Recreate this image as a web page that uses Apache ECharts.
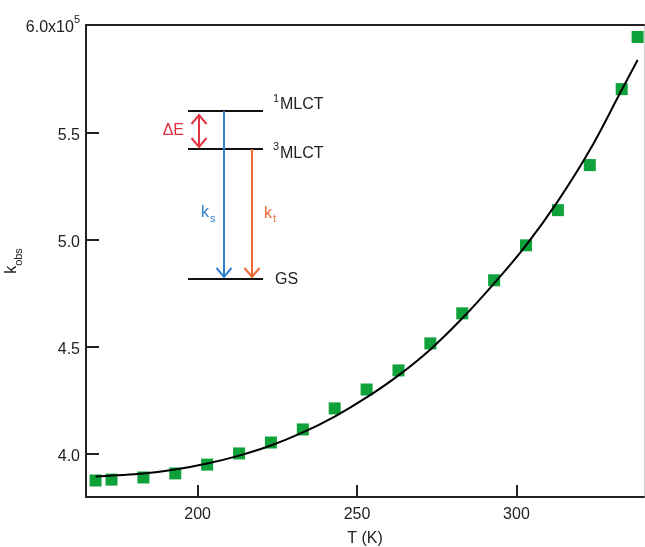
<!DOCTYPE html>
<html>
<head>
<meta charset="utf-8">
<script src="https://cdn.jsdelivr.net/npm/echarts/dist/echarts.min.js"></script>
<style>html,body{margin:0;padding:0;background:#fff;}#chart{width:645px;height:547px;}</style>
</head>
<body>
<div id="chart"></div>
<script>
// Measured data (T in K, k_obs in units of 1e5)
var tempPoints = [168, 173, 183, 193, 203, 213, 223, 233, 243, 253, 263, 273, 283, 293, 303, 313, 323, 333, 338];
var kobsPoints = [3.877, 3.881, 3.891, 3.910, 3.951, 4.003, 4.054, 4.115, 4.213, 4.301, 4.390, 4.516, 4.656, 4.810, 4.973, 5.137, 5.347, 5.701, 5.944];
// Fitted curve
var tempFit = [168, 173, 183, 193, 203, 213, 223, 233, 243, 253, 263, 273, 283, 293, 303, 313, 323, 333, 338];
var kobsFit = [3.895, 3.900, 3.909, 3.928, 3.956, 3.993, 4.040, 4.101, 4.175, 4.264, 4.367, 4.488, 4.633, 4.796, 4.973, 5.179, 5.417, 5.697, 5.837];
// Tick labels
var xTicks = [200, 250, 300];
var yTicks = [4.0, 4.5, 5.0, 5.5, 6.0];

var FONT = '"Liberation Sans", Arial, sans-serif';
var INK = '#222';

function pairs(xs, ys) { return xs.map(function (x, i) { return [x, ys[i]]; }); }

var chart = echarts.init(document.getElementById('chart'), null, { renderer: 'canvas' });

function lineEl(x1, y1, x2, y2, color, w) {
  return { type: 'line', shape: { x1: x1, y1: y1, x2: x2, y2: y2 }, style: { stroke: color, lineWidth: w || 2 }, silent: true };
}
function vHead(x, y, dir, color) {
  // dir = 1 pointing down, -1 pointing up
  return { type: 'polyline', shape: { points: [[x - 7.5, y - dir * 9], [x, y], [x + 7.5, y - dir * 9]] }, style: { stroke: color, lineWidth: 2, fill: null }, silent: true };
}
function txt(x, y, s, size, color, align) {
  return { type: 'text', x: x, y: y, style: { text: s, font: size + 'px ' + FONT, fill: color, align: align || 'left', verticalAlign: 'middle' }, silent: true };
}

var BLUE = '#2f7fd2', ORANGE = '#f06a35', RED = '#e23440';

var option = {
  backgroundColor: '#fff',
  animation: false,
  grid: { left: 86, right: 1, top: 25, bottom: 50, containLabel: false, outerBoundsMode: 'none' },
  xAxis: [{
    type: 'value', min: 165, max: 340,
    axisLine: { lineStyle: { color: INK, width: 2 } },
    axisTick: { inside: true, length: 12, customValues: xTicks, lineStyle: { color: INK, width: 2 } },
    axisLabel: { customValues: xTicks, margin: 10, fontSize: 16, fontFamily: FONT, color: INK },
    splitLine: { show: false },
    name: 'T (K)', nameLocation: 'middle', nameGap: 34, nameMoveOverlap: false,
    nameTextStyle: { fontSize: 16, fontFamily: FONT, color: INK }
  }, {
    type: 'value', min: 165, max: 340, position: 'top',
    axisLine: { lineStyle: { color: INK, width: 2 } },
    axisTick: { show: false }, axisLabel: { show: false }, splitLine: { show: false }
  }],
  yAxis: [{
    type: 'value', min: 3.8, max: 6.0,
    axisLine: { lineStyle: { color: INK, width: 2 } },
    axisTick: { inside: true, length: 13, customValues: yTicks, lineStyle: { color: INK, width: 2 } },
    axisLabel: {
      customValues: yTicks, margin: 6, fontFamily: FONT, color: INK, fontSize: 16,
      formatter: function (v) {
        if (Math.abs(v - 6) < 1e-9) return '{a|6.0x10}{s|5}';
        return '{a|' + v.toFixed(1) + '}';
      },
      rich: {
        a: { fontSize: 16, fontFamily: FONT, color: INK, lineHeight: 22, verticalAlign: 'bottom' },
        s: { fontSize: 11, fontFamily: FONT, color: INK, lineHeight: 22, verticalAlign: 'top' }
      }
    },
    splitLine: { show: false },
    name: '{k|k}{s|obs}', nameLocation: 'middle', nameRotate: 90, nameGap: 62, nameMoveOverlap: false,
    nameTextStyle: {
      rich: {
        k: { fontSize: 16, fontFamily: FONT, color: INK, lineHeight: 20, verticalAlign: 'top' },
        s: { fontSize: 11, fontFamily: FONT, color: INK, lineHeight: 20, verticalAlign: 'bottom' }
      }
    }
  }, {
    type: 'value', min: 3.8, max: 6.0, position: 'right',
    axisLine: { lineStyle: { color: '#cfcfcf', width: 1 } },
    axisTick: { show: false }, axisLabel: { show: false }, splitLine: { show: false }
  }],
  series: [{
    type: 'line', name: 'fit', data: pairs(tempFit, kobsFit), smooth: 0.4,
    showSymbol: false, symbol: 'none', z: 3,
    lineStyle: { color: '#000', width: 2 }
  }, {
    type: 'scatter', name: 'kobs', data: pairs(tempPoints, kobsPoints),
    symbol: 'rect', symbolSize: 12, z: 2,
    itemStyle: { color: '#0fa13a', opacity: 1 }
  }],
  graphic: [
    lineEl(188, 111, 263, 111, '#111'),
    lineEl(188, 149, 263, 149, '#111'),
    lineEl(188, 279, 263, 279, '#111'),
    lineEl(224, 111, 224, 277, BLUE),
    vHead(224, 277, 1, BLUE),
    lineEl(252, 149, 252, 277, ORANGE),
    vHead(252, 277, 1, ORANGE),
    lineEl(199, 115, 199, 147, RED),
    vHead(199, 115, -1, RED),
    vHead(199, 147, 1, RED),
    txt(184, 131, 'ΔE', 16, RED, 'right'),
    txt(273, 99, '1', 11, INK),
    txt(280, 105, 'MLCT', 16, INK),
    txt(273, 147, '3', 11, INK),
    txt(280, 154, 'MLCT', 16, INK),
    txt(275, 280, 'GS', 16, INK),
    txt(201, 213, 'k', 16, BLUE),
    txt(210, 219, 's', 11, BLUE),
    txt(264, 214, 'k', 16, ORANGE),
    txt(273, 219, 't', 11, ORANGE)
  ]
};
chart.setOption(option);
</script>
</body>
</html>
